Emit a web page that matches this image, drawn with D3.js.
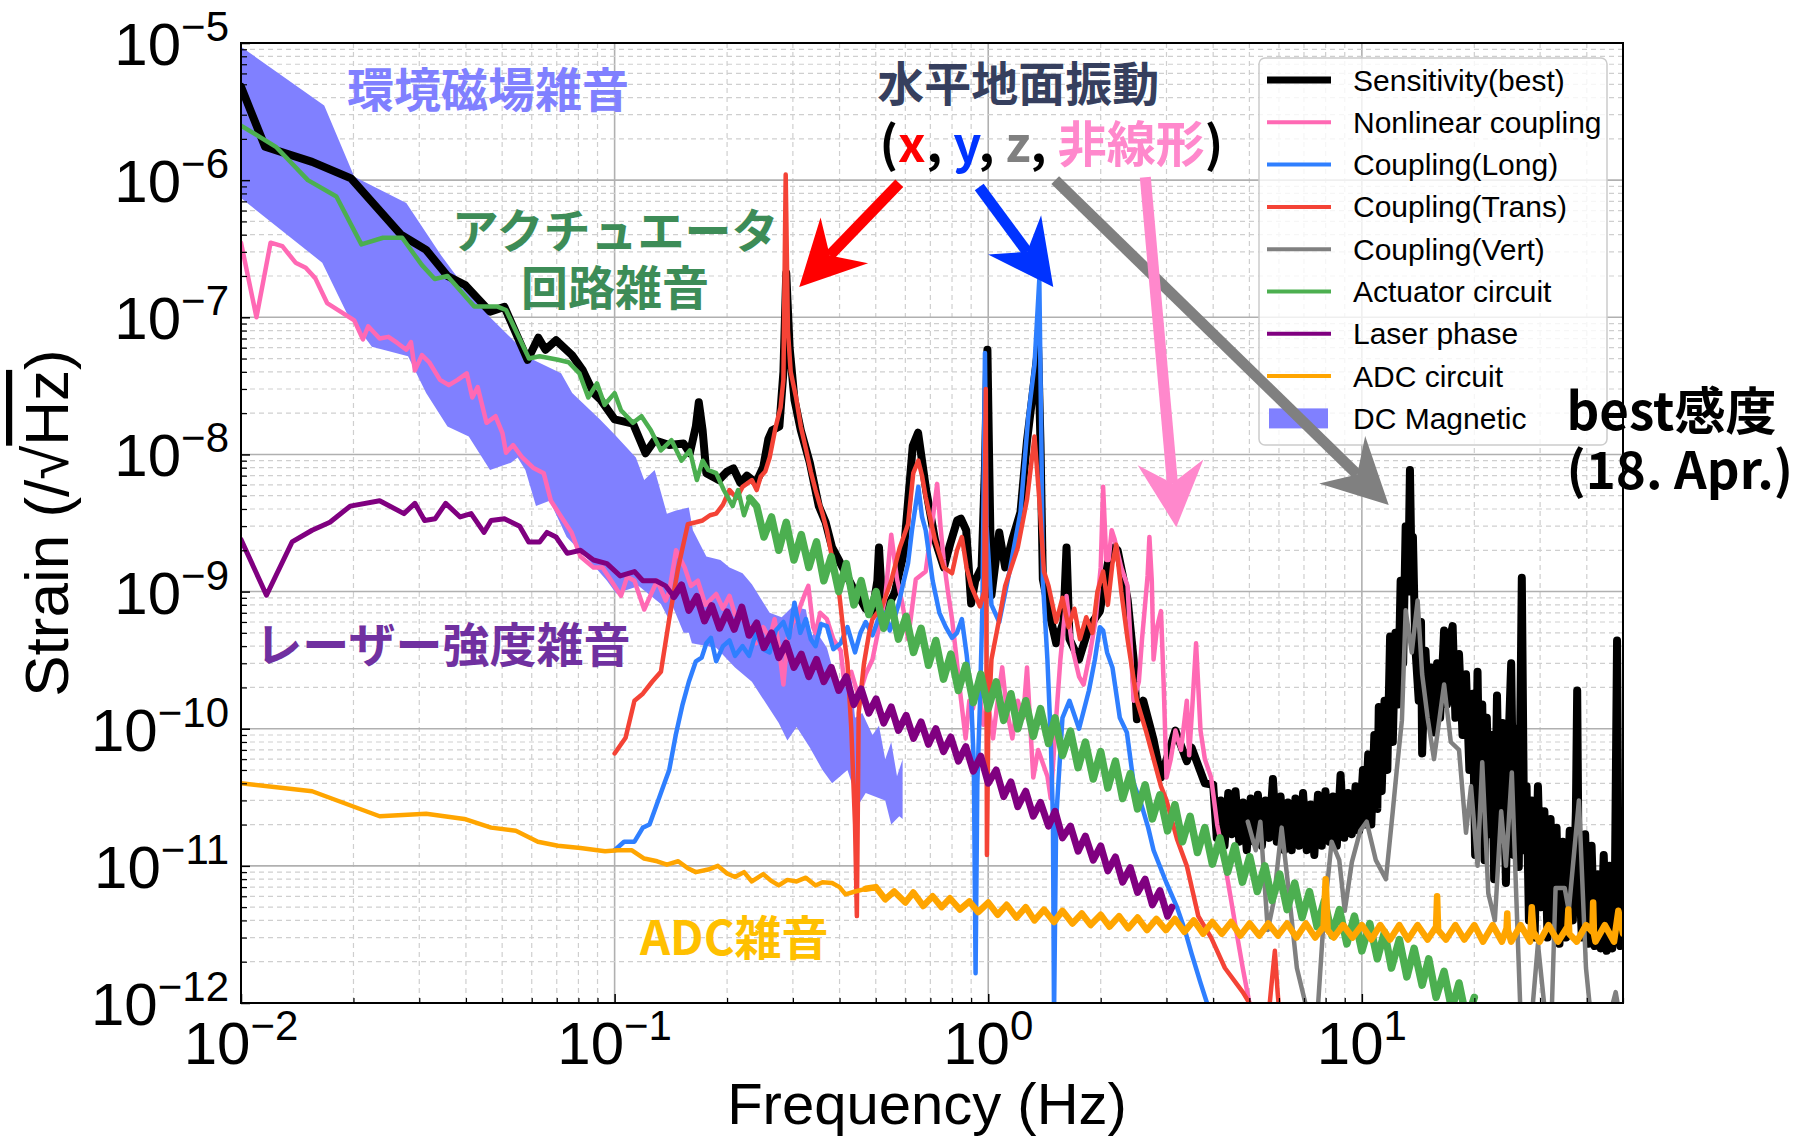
<!DOCTYPE html>
<html>
<head>
<meta charset="utf-8">
<title>Strain noise budget</title>
<script src="https://cdn.jsdelivr.net/npm/d3@7"></script>
<style>
  body { margin: 0; background: #fff; }
</style>
</head>
<body>
<svg id="chart" width="1814" height="1140"></svg>
<script>
'use strict';

// ---- data: [frequency (Hz), strain (/rtHz)] ----
var sensitivity = [
  [0.01,4.8e-6],[0.0116,1.75e-6],[0.0155,1.36e-6],[0.0197,1.03e-6],[0.0268,4.0e-7],[0.0313,3.1e-7],[0.0357,2.0e-7],[0.0398,1.72e-7],
  [0.0464,1.1e-7],[0.0507,1.19e-7],[0.0585,4.9e-8],[0.0625,7.1e-8],[0.0653,5.8e-8],[0.0697,6.8e-8],[0.0769,5.3e-8],[0.0822,4.1e-8],
  [0.0879,2.8e-8],[0.0918,2.5e-8],[0.1,1.8e-8],[0.112,1.68e-8],[0.121,1.02e-8],[0.128,1.27e-8],[0.14,1.17e-8],[0.153,1.2e-8],
  [0.159,1.02e-8],[0.165,1.6e-8],[0.168,2.4e-8],[0.172,1.5e-8],[0.176,7.3e-9],[0.19,6.5e-9],[0.2,7.5e-9],[0.208,7.9e-9],
  [0.217,6.2e-9],[0.226,7.0e-9],[0.239,6.2e-9],[0.25,8.1e-9],[0.258,1.3e-8],[0.264,1.5e-8],[0.276,1.6e-8],[0.283,4.0e-8],
  [0.288,2.1e-7],[0.294,6e-8],[0.303,2.5e-8],[0.315,1.5e-8],[0.333,8.7e-9],[0.352,4.2e-9],[0.367,3.2e-9],[0.382,2.1e-9],
  [0.398,1.7e-9],[0.415,1.36e-9],[0.432,1.1e-9],[0.451,9.2e-10],[0.47,7.5e-10],[0.489,6.9e-10],[0.505,1.2e-9],[0.51,2.1e-9],
  [0.518,1.0e-9],[0.532,7.3e-10],[0.562,9.8e-10],[0.594,1.9e-9],[0.61,4.5e-9],[0.628,1.15e-8],[0.649,1.44e-8],[0.665,9e-9],
  [0.682,5.5e-9],[0.72,2.4e-9],[0.761,1.5e-9],[0.79,2.2e-9],[0.826,3.3e-9],[0.845,3.4e-9],[0.873,2.8e-9],[0.9,8.2e-10],
  [0.923,1.2e-9],[0.96,1.5e-9],[0.98,8e-9],[0.995,5.8e-8],[1.005,1e-8],[1.02,9.4e-10],[1.07,2.7e-9],[1.11,1.5e-9],
  [1.16,2.4e-9],[1.22,3.8e-9],[1.27,1.26e-8],[1.32,3.0e-8],[1.36,6.0e-8],[1.38,1.2e-8],[1.4,1.23e-9],[1.47,6.3e-10],
  [1.52,4.2e-10],[1.59,6e-10],[1.62,2.1e-9],[1.65,4.5e-10],[1.75,3.2e-10],[1.86,5.5e-10],[1.99,7.2e-10],[2.1,1.73e-9],
  [2.18,2.1e-9],[2.22,2.0e-9],[2.36,8.8e-10],[2.45,3.2e-10],[2.5,1.17e-10],[2.6,1.6e-10],[2.77,8.3e-11],[2.9,4.4e-11],
  [3.17,9.7e-11],[3.4,5.8e-11],[3.5,7.3e-11],[3.8,4.0e-11],
  [4.0,3.9e-11],[4.09,1.6e-11],[4.19,3.0e-11],[4.29,1.4e-11],[4.39,3.4e-11],[4.49,1.7e-11],[4.59,3.5e-11],[4.70,1.5e-11],
  [4.81,2.9e-11],[4.92,1.3e-11],[5.04,3.1e-11],[5.15,1.5e-11],[5.27,3.3e-11],[5.40,1.4e-11],[5.52,3.0e-11],[5.65,1.6e-11],
  [5.78,4.3e-11],[5.92,1.5e-11],[6.06,3.2e-11],[6.20,1.3e-11],[6.34,2.9e-11],[6.49,1.3e-11],[6.64,3.1e-11],[6.80,1.4e-11],
  [6.96,3.4e-11],[7.12,1.3e-11],[7.29,2.8e-11],[7.46,1.2e-11],[7.63,3.3e-11],[7.81,1.4e-11],[7.99,3.5e-11],[8.18,1.5e-11],
  [8.37,3.2e-11],[8.57,1.4e-11],[8.77,4.6e-11],[8.97,1.6e-11],[9.18,3.4e-11],[9.40,1.7e-11],[9.62,3.8e-11],[9.84,1.8e-11],
  [10.07,5.0e-11],[10.2,2.0e-11],[10.4,6.5e-11],[10.6,2.0e-11],[10.8,9e-11],[11.0,2.6e-11],[11.1,1.44e-10],[11.3,3.5e-11],
  [11.5,1.6e-10],[11.7,5e-11],[11.9,4.7e-10],[12.1,8e-11],[12.3,5.0e-10],[12.5,1.5e-10],[12.7,1.2e-9],[12.9,3e-10],
  [13.1,3.0e-9],[13.3,1.0e-9],[13.45,7.7e-9],[13.6,1.14e-9],[13.7,2.5e-9],[13.9,4e-10],[14.2,1.6e-10],[14.4,6e-10],
  [14.5,6.6e-11],[14.8,3.7e-10],[15.1,1.2e-10],[15.3,2.8e-10],[15.6,9.4e-11],[15.9,3.0e-10],[16.2,1.2e-10],[16.6,5.2e-10],
  [16.9,1.5e-10],[17.2,4.5e-10],[17.5,5.6e-10],[17.8,1.2e-10],[18.2,3.5e-10],[18.6,9e-11],[19.0,2.5e-10],[19.4,5e-11],
  [19.8,1.8e-10],[20.1,1.2e-11],[20.4,2.6e-10],[20.7,2e-11],[21.0,1.5e-10],[21.3,1.1e-11],[21.6,1.2e-10],[22.0,1.7e-11],
  [22.3,9e-11],[22.6,8e-12],[23.0,1.75e-10],[23.4,1.5e-11],[23.8,1.1e-10],[24.3,7.5e-12],[24.7,8e-11],[25.1,3.0e-10],
  [25.5,1.2e-11],[25.9,1.0e-10],[26.3,9.8e-12],[26.8,1.26e-9],[27.2,1.3e-11],[27.6,3.8e-11],[28.0,4e-12],[28.5,3.0e-11],
  [29.0,3e-12],[29.6,3.8e-11],[30.2,5e-12],[30.8,2.5e-11],[31.4,3e-12],[32.0,2.2e-11],[32.6,4e-12],[33.2,1.9e-11],
  [33.8,2.7e-12],[34.5,1.5e-11],[35.2,3e-12],[36.0,1.8e-11],[36.7,4e-12],[37.4,2.5e-11],[37.7,1.9e-10],[38.0,1.2e-11],
  [38.8,3e-12],[39.6,1.7e-11],[40.4,2.7e-12],[41.2,1.4e-11],[42.0,2.6e-12],[42.8,8.7e-12],[43.6,2.5e-12],[44.4,1.2e-11],
  [45.2,2.4e-12],[46.0,1.0e-11],[46.8,2.5e-12],[47.6,9e-12],[48.2,4.4e-10],[48.6,8e-12],[49.2,2.6e-12],[50,1.5e-11]
];

var nonlinear = [
  [0.01,3.5e-7],[0.011,1.0e-7],[0.012,3.5e-7],[0.0129,3.3e-7],[0.014,2.5e-7],[0.0149,2.3e-7],[0.0158,1.93e-7],[0.017,1.27e-7],
  [0.0201,9.5e-8],[0.0212,6.9e-8],[0.0219,8.6e-8],[0.0235,7.0e-8],[0.0248,7.2e-8],[0.0262,6.5e-8],[0.0277,5.8e-8],[0.0285,6.6e-8],
  [0.0292,4.1e-8],[0.0305,5.3e-8],[0.0319,4.7e-8],[0.0341,3.5e-8],[0.036,3.2e-8],[0.038,3.5e-8],[0.0402,3.9e-8],[0.0416,2.6e-8],
  [0.043,3.1e-8],[0.0454,1.7e-8],[0.048,1.9e-8],[0.0501,1.43e-8],[0.0512,1.03e-8],[0.0535,1.17e-8],[0.0566,9.5e-9],[0.0605,8e-9],
  [0.0646,7.3e-9],[0.0675,4.6e-9],[0.072,3.5e-9],[0.0767,2.7e-9],[0.081,1.8e-9],[0.0878,1.5e-9],[0.0928,1.5e-9],[0.1,1.1e-9],
  [0.104,9.3e-10],[0.108,1.28e-9],[0.113,1.2e-9],[0.12,7.4e-10],[0.126,1.0e-9],[0.13,1.2e-9],[0.137,8.6e-10],[0.14,1.0e-9],
  [0.146,2.0e-9],[0.154,1.5e-9],[0.16,1.1e-9],[0.167,1.2e-9],[0.175,8e-10],[0.187,9.6e-10],[0.195,7.5e-10],[0.203,9.3e-10],
  [0.21,6.8e-10],[0.22,6.3e-10],[0.23,5.5e-10],[0.239,4.2e-10],[0.25,5.5e-10],[0.26,4.5e-10],[0.268,6.3e-10],[0.275,4e-10],
  [0.283,2.1e-10],[0.29,4.5e-10],[0.3,6.0e-10],[0.306,6.3e-10],[0.315,8e-10],[0.325,1.0e-9],[0.33,1.1e-9],[0.34,5.5e-10],
  [0.345,5e-10],[0.355,7e-10],[0.37,6.3e-10],[0.385,4.5e-10],[0.403,3.7e-10],[0.41,2.4e-10],[0.43,2.6e-10],[0.45,1.7e-10],
  [0.47,2.5e-10],[0.49,3.2e-10],[0.51,5.5e-10],[0.53,9e-10],[0.55,2.6e-9],[0.57,1.23e-9],[0.59,8e-10],[0.61,4.5e-10],
  [0.64,1.23e-9],[0.68,1.4e-9],[0.7,2.5e-9],[0.73,6.1e-9],[0.745,3e-9],[0.76,1.7e-9],[0.78,1.0e-9],[0.8,6.3e-10],
  [0.82,3.5e-10],[0.84,1.9e-10],[0.87,8.5e-11],[0.89,1.6e-10],[0.91,1.4e-10],[0.94,2.2e-10],[0.97,1.07e-10],[1.0,1.5e-10],
  [1.03,8.5e-11],[1.06,1.6e-10],[1.09,2.8e-10],[1.12,1.4e-10],[1.16,8.5e-11],[1.2,1.6e-10],[1.24,1.2e-10],[1.27,2.8e-10],
  [1.3,9e-11],[1.32,4.4e-11],[1.36,7e-11],[1.4,5.6e-11],[1.44,4.5e-11],[1.47,3.1e-11],[1.52,1.2e-10],[1.56,3.2e-10],
  [1.62,9.3e-10],[1.66,5e-10],[1.69,3.6e-10],[1.75,2.4e-10],[1.8,2.1e-10],[1.87,3.5e-10],[1.94,6.3e-10],[2.0,1.5e-9],
  [2.03,5.8e-9],[2.07,1.7e-9],[2.1,1.7e-9],[2.14,2.8e-9],[2.18,2.4e-9],[2.27,1.5e-9],[2.36,1.1e-9],[2.45,1.6e-10],
  [2.53,2.2e-10],[2.58,4.5e-10],[2.62,7.2e-10],[2.67,1.3e-9],[2.7,2.5e-9],[2.74,1.2e-9],[2.77,3.2e-10],[2.83,5.5e-10],
  [2.9,7.2e-10],[2.95,2e-10],[3.0,4.4e-11],[3.08,6e-11],[3.17,9.7e-11],[3.28,7e-11],[3.4,1.6e-10],[3.45,6.4e-11],
  [3.52,1.5e-10],[3.6,4.2e-10],[3.7,9.7e-11],[3.8,6e-11],[3.95,4.4e-11],[4.1,2e-11],[4.27,1.15e-11],[4.45,6e-12],
  [4.6,3.5e-12],[4.8,1.8e-12],[5.0,1.0e-12],[5.2,6e-13]
];

var couplingLong = [
  [0.1,1.3e-11],[0.106,1.5e-11],[0.113,1.5e-11],[0.119,1.9e-11],[0.124,2.0e-11],[0.129,2.7e-11],[0.135,3.8e-11],[0.14,5e-11],
  [0.146,9.2e-11],[0.152,1.5e-10],[0.158,2.2e-10],[0.165,3.1e-10],[0.171,3.3e-10],[0.176,4.2e-10],[0.181,4.6e-10],[0.187,3.1e-10],
  [0.195,4.0e-10],[0.203,4.4e-10],[0.21,3.4e-10],[0.22,4.0e-10],[0.229,3.4e-10],[0.239,5.0e-10],[0.25,3.8e-10],[0.26,3.6e-10],
  [0.27,5.2e-10],[0.283,6.0e-10],[0.293,4.6e-10],[0.303,8.3e-10],[0.314,5.0e-10],[0.325,6.3e-10],[0.335,4.5e-10],[0.345,4.0e-10],
  [0.357,5.8e-10],[0.37,5.6e-10],[0.385,3.8e-10],[0.403,4.2e-10],[0.42,5.5e-10],[0.44,3.6e-10],[0.455,5.0e-10],[0.47,6.0e-10],
  [0.49,4.8e-10],[0.51,6.5e-10],[0.53,7.0e-10],[0.545,5.2e-10],[0.56,6.3e-10],[0.575,8.0e-10],[0.59,1.1e-9],[0.61,1.6e-9],
  [0.625,2.8e-9],[0.65,5.8e-9],[0.665,3.5e-9],[0.68,2.8e-9],[0.71,1.2e-9],[0.74,7.0e-10],[0.77,5.5e-10],[0.8,4.6e-10],
  [0.825,5e-10],[0.85,6.3e-10],[0.875,3.5e-10],[0.9,1.7e-10],[0.915,5.6e-11],[0.925,1.65e-12],[0.935,4e-11],[0.95,1.5e-10],
  [0.965,8e-10],[0.98,5.5e-8],[0.99,3e-9],[1.02,8e-10],[1.07,6e-10],[1.14,1.4e-9],[1.22,3.8e-9],[1.28,1.9e-8],
  [1.33,4.5e-8],[1.37,1.9e-7],[1.39,8e-9],[1.4,1.2e-9],[1.44,3.2e-10],[1.47,8.5e-11],[1.49,2.2e-11],[1.5,8e-13],
  [1.52,2.2e-11],[1.58,1.2e-10],[1.65,1.6e-10],[1.75,1.0e-10],[1.86,1.9e-10],[1.93,3.2e-10],[1.99,5.5e-10],[2.03,5.2e-10],
  [2.08,3.6e-10],[2.15,2.8e-10],[2.25,1.2e-10],[2.35,9.4e-11],[2.45,4e-11],[2.55,3e-11],[2.68,1.9e-11],[2.77,1.3e-11],
  [3.0,7.5e-12],[3.2,5e-12],[3.36,3.4e-12],[3.5,2.3e-12],[3.7,1.4e-12],[3.85,1.0e-12],[4.0,7e-13]
];

var couplingTrans = [
  [0.1,6.6e-11],[0.107,8.6e-11],[0.113,1.6e-10],[0.119,1.8e-10],[0.126,2.2e-10],[0.133,2.6e-10],[0.14,6.3e-10],[0.148,1.5e-9],
  [0.157,3.1e-9],[0.165,3.2e-9],[0.172,3.3e-9],[0.18,3.6e-9],[0.187,3.7e-9],[0.195,4.3e-9],[0.203,5.5e-9],[0.212,4.8e-9],
  [0.22,5.8e-9],[0.233,6.5e-9],[0.24,5.5e-9],[0.246,6.9e-9],[0.253,7.5e-9],[0.26,9.5e-9],[0.27,1.6e-8],[0.278,2.2e-8],
  [0.283,3.5e-8],[0.287,1.1e-6],[0.291,8e-8],[0.296,4e-8],[0.306,2.6e-8],[0.315,1.6e-8],[0.325,1.1e-8],[0.335,7.5e-9],
  [0.345,5.5e-9],[0.36,3.7e-9],[0.37,2.8e-9],[0.38,1.9e-9],[0.39,1.4e-9],[0.4,9.2e-10],[0.41,5e-10],[0.42,3.0e-10],
  [0.43,1.0e-10],[0.44,2e-11],[0.445,4.3e-12],[0.45,1.3e-10],[0.465,3.0e-10],[0.48,5e-10],[0.49,6.3e-10],[0.52,7.8e-10],
  [0.55,1.2e-9],[0.58,2.1e-9],[0.61,3.1e-9],[0.63,7.3e-9],[0.65,9e-9],[0.665,7e-9],[0.68,4.9e-9],[0.72,2.4e-9],
  [0.76,1.5e-9],[0.8,1.36e-9],[0.825,2.0e-9],[0.85,2.5e-9],[0.875,1.5e-9],[0.9,1.1e-9],[0.95,7.8e-10],[0.975,1e-9],
  [0.985,3e-8],[0.992,1.2e-11],[1.0,1e-10],[1.02,3.2e-10],[1.07,6.3e-10],[1.11,1.1e-9],[1.2,2.1e-9],[1.27,4.7e-9],
  [1.33,1.35e-8],[1.37,4.7e-9],[1.41,1.4e-9],[1.45,1.1e-9],[1.52,6e-10],[1.58,9e-10],[1.64,5.5e-10],[1.7,7.5e-10],
  [1.76,4.5e-10],[1.83,6.5e-10],[1.9,5e-10],[1.96,1.0e-9],[2.03,1.4e-9],[2.09,8e-10],[2.15,1.6e-9],[2.2,2.2e-9],
  [2.27,1.0e-9],[2.36,4.5e-10],[2.5,1.6e-10],[2.65,9.4e-11],[2.9,3.8e-11],[3.0,3e-11],[3.2,1.57e-11],[3.4,1e-11],
  [3.65,4.3e-12],[3.95,3e-12],[4.3,1.8e-12],[4.8,1.2e-12],[5.0,1e-12],[5.1,7e-13],[5.6,7e-13],[5.75,1.5e-12],
  [5.85,2.4e-12],[5.95,1.2e-12],[6.05,7e-13]
];

var couplingVert = [
  [4.95,2.1e-11],[5.2,1.3e-11],[5.35,2.1e-11],[5.6,3.4e-12],[5.8,5.4e-12],[6.1,1.9e-11],[6.3,8.7e-12],[6.7,1.8e-12],
  [7.2,8e-13],[7.6,8e-13],[7.9,4e-12],[8.3,1.5e-11],[8.7,1.1e-11],[9.0,4.7e-12],[9.4,1.06e-11],[9.9,1.8e-11],
  [10.3,2.1e-11],[10.9,1.1e-11],[11.6,8e-12],[12.1,2.5e-11],[12.4,5e-11],[12.8,1.15e-10],[13.1,7.3e-10],[13.6,3.6e-10],
  [14.1,8.6e-10],[14.5,2.5e-10],[15.0,1.2e-10],[15.6,6e-11],[16.6,2.1e-10],[17.3,8e-11],[18.2,7e-11],[19.0,1.74e-11],
  [19.6,3.8e-11],[20.4,1e-11],[21.0,5.7e-11],[21.8,6.3e-12],[22.7,4e-12],[23.6,2.5e-11],[24.3,1e-11],[25.2,4.8e-11],
  [26.6,8e-13],[28.5,8e-13],[29.6,2.7e-12],[31.0,8e-13],[32.2,8e-13],[33.0,6.9e-12],[34.9,6.9e-12],[35.8,4.7e-12],
  [38.1,3e-11],[39.8,1.8e-12],[41.0,8e-13],[46.0,8e-13],[47.8,1.2e-12],[49,8e-13]
];

var actuator = [
  [0.01,2.5e-6],[0.0124,1.75e-6],[0.0151,1.0e-6],[0.018,7.6e-7],[0.021,3.4e-7],[0.024,3.8e-7],[0.027,3.8e-7],[0.0305,2.4e-7],
  [0.033,1.9e-7],[0.0357,2.0e-7],[0.0421,1.2e-7],[0.0484,1.2e-7],[0.0512,1.13e-7],[0.059,5.0e-8],[0.063,5.2e-8],[0.0705,4.9e-8],
  [0.0753,4.7e-8],[0.0805,3.9e-8],[0.085,2.6e-8],[0.0897,3.3e-8],[0.094,2.3e-8],[0.1,2.8e-8],[0.104,2.1e-8],[0.112,1.7e-8],
  [0.118,1.9e-8],[0.125,1.5e-8],[0.133,1.07e-8],[0.142,1.27e-8],[0.151,9.0e-9],[0.159,1.07e-8],[0.166,6.5e-9],[0.172,9e-9],
  [0.178,7.7e-9],[0.187,7.3e-9],[0.196,5.5e-9],[0.207,4.2e-9],[0.214,5.5e-9],[0.222,3.6e-9],[0.23,4.8e-9],
  [0.240,4.2e-9],[0.251,2.5e-9],[0.263,3.5e-9],[0.275,2.0e-9],[0.288,3.2e-9],[0.302,1.7e-9],[0.316,2.6e-9],[0.331,1.5e-9],
  [0.347,2.3e-9],[0.363,1.2e-9],[0.380,1.8e-9],[0.398,1.0e-9],[0.417,1.6e-9],[0.437,8.0e-10],[0.457,1.2e-9],[0.479,6.8e-10],
  [0.501,1.0e-9],[0.525,5.4e-10],[0.550,8.3e-10],[0.575,4.5e-10],[0.603,6.6e-10],[0.631,3.6e-10],[0.661,5.4e-10],[0.692,2.9e-10],
  [0.724,4.4e-10],[0.759,2.3e-10],[0.794,3.5e-10],[0.832,1.9e-10],[0.871,2.9e-10],[0.912,1.55e-10],[0.955,2.5e-10],[1.00,1.4e-10],
  [1.05,2.2e-10],[1.10,1.15e-10],[1.15,1.8e-10],[1.20,1.0e-10],[1.26,1.6e-10],[1.32,8.8e-11],[1.38,1.4e-10],[1.45,7.8e-11],
  [1.51,1.2e-10],[1.58,6.4e-11],[1.66,9.6e-11],[1.74,5.2e-11],[1.82,8.0e-11],[1.91,4.3e-11],[2.00,6.8e-11],[2.09,3.7e-11],
  [2.19,5.8e-11],[2.29,3.1e-11],[2.40,4.7e-11],[2.51,2.6e-11],[2.63,3.9e-11],[2.75,2.2e-11],[2.88,3.3e-11],[3.02,1.8e-11],
  [3.16,2.8e-11],[3.31,1.5e-11],[3.47,2.3e-11],[3.63,1.25e-11],[3.80,1.9e-11],[3.98,1.03e-11],[4.17,1.6e-11],[4.37,9.0e-12],
  [4.57,1.4e-11],[4.79,7.6e-12],[5.01,1.17e-11],[5.25,6.5e-12],[5.50,1.0e-11],[5.75,5.6e-12],[6.03,8.7e-12],[6.31,4.8e-12],
  [6.61,7.5e-12],[6.92,4.2e-12],[7.24,6.5e-12],[7.59,3.6e-12],[7.94,5.6e-12],[8.32,3.1e-12],[8.71,4.8e-12],[9.12,2.7e-12],
  [9.55,4.3e-12],[10.0,2.4e-12],[10.5,3.8e-12],[11.0,2.1e-12],[11.5,3.3e-12],[12.0,1.8e-12],[12.6,2.9e-12],[13.2,1.55e-12],
  [13.8,2.5e-12],[14.5,1.35e-12],[15.1,2.1e-12],[15.8,1.1e-12],[16.6,1.7e-12],[17.4,9.0e-13],[18.2,1.4e-12],[19.1,7.4e-13],
  [20.0,1.1e-12]
];

var laserPhase = [
  [0.01,2.4e-9],[0.0117,9.4e-10],[0.0137,2.3e-9],[0.0155,2.8e-9],[0.0173,3.2e-9],[0.0196,4.2e-9],[0.0235,4.6e-9],[0.0273,3.7e-9],
  [0.0292,4.4e-9],[0.031,3.3e-9],[0.0331,3.4e-9],[0.0353,4.4e-9],[0.0386,3.5e-9],[0.0413,3.7e-9],[0.0447,2.7e-9],[0.0467,3.3e-9],
  [0.0507,3.4e-9],[0.0557,3.0e-9],[0.0589,2.3e-9],[0.063,2.3e-9],[0.0659,2.7e-9],[0.0697,2.5e-9],[0.0747,1.9e-9],[0.081,2.0e-9],
  [0.0878,1.7e-9],[0.0954,1.6e-9],[0.1035,1.3e-9],[0.113,1.4e-9],[0.119,1.2e-9],[0.129,1.2e-9],[0.137,1.1e-9],[0.144,9.2e-10],
  [0.151,1.12e-9],[0.158,7.3e-10],[0.166,9.2e-10],[0.174,6.1e-10],[0.182,7.9e-10],[0.191,5.4e-10],[0.200,7.1e-10],[0.209,5.3e-10],
  [0.219,7.7e-10],[0.229,4.8e-10],[0.240,5.9e-10],[0.251,3.9e-10],[0.263,5.0e-10],[0.275,3.3e-10],[0.288,4.2e-10],[0.302,2.8e-10],
  [0.316,3.5e-10],[0.331,2.4e-10],[0.347,3.2e-10],[0.363,2.2e-10],[0.380,2.8e-10],[0.398,1.9e-10],[0.417,2.4e-10],[0.437,1.5e-10],
  [0.457,1.95e-10],[0.479,1.3e-10],[0.501,1.65e-10],[0.525,1.1e-10],[0.550,1.44e-10],[0.575,9.7e-11],[0.603,1.25e-10],[0.631,8.5e-11],
  [0.661,1.12e-10],[0.692,7.7e-11],[0.724,1.0e-10],[0.759,6.8e-11],[0.794,8.7e-11],[0.832,5.8e-11],[0.871,7.4e-11],[0.912,4.9e-11],
  [0.955,6.3e-11],[1.00,4.0e-11],[1.05,5.0e-11],[1.10,3.2e-11],[1.15,4.1e-11],[1.20,2.7e-11],[1.26,3.5e-11],[1.32,2.3e-11],
  [1.38,2.9e-11],[1.45,1.95e-11],[1.51,2.5e-11],[1.58,1.6e-11],[1.66,1.95e-11],[1.74,1.28e-11],[1.82,1.65e-11],[1.91,1.1e-11],
  [2.00,1.4e-11],[2.09,9.2e-12],[2.19,1.16e-11],[2.29,7.6e-12],[2.40,9.7e-12],[2.51,6.4e-12],[2.63,8.0e-12],[2.75,5.2e-12],
  [2.88,6.6e-12],[3.02,4.3e-12],[3.10,5.0e-12]
];

var adcCircuit = [
  [0.01,4.0e-11],[0.0155,3.5e-11],[0.0235,2.3e-11],[0.0313,2.4e-11],[0.0396,2.2e-11],[0.0467,1.9e-11],[0.0544,1.8e-11],[0.0623,1.5e-11],
  [0.0705,1.4e-11],[0.081,1.35e-11],[0.0943,1.28e-11],[0.102,1.3e-11],[0.111,1.3e-11],[0.12,1.13e-11],[0.13,1.08e-11],[0.138,1.02e-11],
  [0.148,1.08e-11],[0.157,9.6e-12],[0.165,9.0e-12],[0.178,9.4e-12],[0.189,1.0e-11],[0.2,8.8e-12],[0.21,8.3e-12],[0.222,9.0e-12],
  [0.233,7.7e-12],[0.25,8.7e-12],[0.262,7.8e-12],[0.275,7.2e-12],[0.29,7.9e-12],[0.307,7.7e-12],[0.325,8.2e-12],[0.345,7.2e-12],
  [0.36,7.6e-12],[0.382,7.5e-12],[0.4,7.0e-12],[0.415,6.2e-12],[0.44,6.5e-12],[0.47,6.8e-12],
  [0.50,7.0e-12],[0.53,5.7e-12],[0.56,6.5e-12],[0.60,5.4e-12],[0.63,6.4e-12],[0.67,5.1e-12],[0.71,6.0e-12],[0.75,5.0e-12],
  [0.79,5.8e-12],[0.84,4.8e-12],[0.89,5.5e-12],[0.94,4.6e-12],[1.0,5.4e-12],[1.06,4.4e-12],[1.12,5.2e-12],[1.19,4.2e-12],
  [1.26,5.0e-12],[1.33,4.0e-12],[1.41,4.8e-12],[1.5,3.9e-12],[1.58,4.7e-12],[1.68,3.8e-12],[1.78,4.5e-12],[1.88,3.7e-12],
  [2.0,4.4e-12],[2.11,3.6e-12],[2.24,4.3e-12],[2.37,3.5e-12],[2.51,4.2e-12],[2.66,3.4e-12],[2.82,4.1e-12],[2.99,3.4e-12],
  [3.16,4.1e-12],[3.35,3.3e-12],[3.55,4.0e-12],[3.76,3.2e-12],[3.98,3.9e-12],[4.22,3.2e-12],[4.47,3.9e-12],[4.73,3.1e-12],
  [5.01,3.8e-12],[5.31,3.1e-12],[5.62,3.8e-12],[5.96,3.1e-12],[6.31,3.8e-12],[6.68,3.0e-12],[7.08,3.8e-12],[7.5,3.0e-12],
  [7.9,3.6e-12],[8.0,8.0e-12],[8.1,3.4e-12],[8.41,3.0e-12],[8.91,3.7e-12],[9.44,3.0e-12],[10.0,3.7e-12],[10.6,2.9e-12],
  [11.2,3.7e-12],[11.9,2.9e-12],[12.6,3.7e-12],[13.3,2.9e-12],[14.1,3.7e-12],[15.0,2.9e-12],[15.8,3.6e-12],[15.9,6.0e-12],
  [16.0,3.4e-12],[16.8,2.9e-12],[17.8,3.7e-12],[18.8,2.9e-12],[20.0,3.7e-12],[21.1,2.8e-12],[22.4,3.7e-12],[23.7,2.8e-12],
  [24.4,3.5e-12],[24.5,4.5e-12],[24.6,3.4e-12],[25.1,2.8e-12],[26.6,3.7e-12],[28.2,2.8e-12],[28.5,5.0e-12],[28.8,3.3e-12],
  [29.9,2.8e-12],[31.6,3.7e-12],[33.5,2.8e-12],[35.5,3.6e-12],[35.7,4.8e-12],[35.9,3.2e-12],[37.6,2.8e-12],[39.8,3.7e-12],
  [41.4,3.3e-12],[41.6,5.4e-12],[41.8,3.2e-12],[42.2,2.8e-12],[44.7,3.7e-12],[47.3,2.8e-12],[48.6,4.7e-12],[50,3.2e-12]
];

// DC magnetic band: upper and lower edges
var magneticUpper = [
  [0.01,9.4e-6],[0.0167,3.5e-6],[0.0201,1.06e-6],[0.0277,6.8e-7],[0.0341,2.9e-7],[0.0372,2.1e-7],[0.0464,1.0e-7],[0.0605,4.9e-8],
  [0.0719,3.9e-8],[0.077,2.8e-8],[0.0914,1.8e-8],[0.1,1.4e-8],[0.114,9.5e-9],[0.12,6.5e-9],[0.128,7.7e-9],[0.138,3.7e-9],
  [0.146,3.9e-9],[0.158,4.1e-9],[0.162,2.8e-9],[0.176,1.8e-9],[0.192,1.7e-9],[0.203,1.5e-9],[0.22,1.36e-9],[0.233,1.13e-9],
  [0.26,7e-10],[0.28,6.5e-10],[0.3,7.8e-10],[0.325,7.4e-10],[0.335,4.6e-10],[0.345,5.2e-10],[0.37,3.9e-10],[0.39,2.3e-10],
  [0.415,2.0e-10],[0.43,2.4e-10],[0.44,1.2e-10],[0.46,1.3e-10],[0.49,9e-11],[0.51,1.05e-10],[0.53,6e-11],[0.55,8e-11],
  [0.57,4.5e-11],[0.59,6e-11]
];
var magneticLower = [
  [0.01,7.4e-7],[0.0165,2.5e-7],[0.0192,1.07e-7],[0.0224,6.1e-8],[0.028,5.2e-8],[0.0313,2.8e-8],[0.0357,1.6e-8],[0.0407,1.35e-8],
  [0.0464,7.7e-9],[0.0528,8.7e-9],[0.055,9.5e-9],[0.0577,7.7e-9],[0.0616,4.2e-9],[0.067,4.6e-9],[0.0744,2.5e-9],[0.0853,1.7e-9],
  [0.0954,1.2e-9],[0.101,9.7e-10],[0.116,1.1e-9],[0.133,8.1e-10],[0.14,6.2e-10],[0.143,7.8e-10],[0.153,5e-10],[0.158,5e-10],
  [0.161,4.2e-10],[0.187,3.9e-10],[0.21,2.8e-10],[0.233,2.2e-10],[0.275,1.1e-10],[0.29,8.2e-11],[0.307,1.03e-10],[0.333,7.3e-11],
  [0.36,5.0e-11],[0.382,4e-11],[0.42,5e-11],[0.45,2.8e-11],[0.47,3.4e-11],[0.53,3e-11],[0.55,2.0e-11],[0.578,2.3e-11],[0.59,2.2e-11]
];

var legendLabels = ['Sensitivity(best)', 'Nonlinear coupling', 'Coupling(Long)', 'Coupling(Trans)',
                    'Coupling(Vert)', 'Actuator circuit', 'Laser phase', 'ADC circuit', 'DC Magnetic'];
var xTickExps = [-2, -1, 0, 1];
var yTickExps = [-12, -11, -10, -9, -8, -7, -6, -5];

// annotation texts and their anchor points in data units
var noteLabels = ['環境磁場雑音', 'アクチュエータ', '回路雑音', '水平地面振動', 'レーザー強度雑音', 'ADC雑音'];
var noteAnchors = [[0.0458,4.85e-6],[0.1003,4.48e-7],[0.1003,1.72e-7],[1.203,5.37e-6],[0.0347,4.35e-10],[0.209,3.17e-12]];
var axisParts = ['(', 'x', ', ', 'y', ', ', 'z', ', ', '非線形', ')'];
var axisAnchor = [1.475, 1.96e-6];
var bestLabels = ['best感度', '(18. Apr.)'];
var bestAnchors = [[35.3,2.18e-8],[35.3,8.07e-9]];
var arrowTails = [[0.578,9.5e-7],[0.946,8.9e-7],[1.511,1.0e-6],[2.633,1.05e-6]];
var arrowTips  = [[0.312,1.66e-7],[1.493,1.66e-7],[11.8,4.27e-9],[3.187,2.95e-9]];

// ---- layout ----
var plot = {left: 241, right: 1623, top: 43, bottom: 1003};
var latin = "'Liberation Sans', Arial, Helvetica, sans-serif";
var cjk = "'Noto Sans CJK JP', 'Noto Sans', sans-serif";

var x = d3.scaleLog().domain([0.01, 50]).range([plot.left, plot.right]);
var y = d3.scaleLog().domain([1e-12, 1e-5]).range([plot.bottom, plot.top]);

var svg = d3.select('#chart');
svg.append('rect').attr('width', 1814).attr('height', 1140).attr('fill', '#fff');

svg.append('defs').append('clipPath').attr('id', 'plotclip')
  .append('rect')
  .attr('x', plot.left).attr('y', plot.top)
  .attr('width', plot.right - plot.left).attr('height', plot.bottom - plot.top);

function isDecade(v) {
  var l = Math.log10(v);
  return Math.abs(l - Math.round(l)) < 1e-6;
}

// grid
var grid = svg.append('g');
x.ticks().forEach(function(v) {
  var major = isDecade(v);
  grid.append('line')
    .attr('x1', x(v)).attr('x2', x(v)).attr('y1', plot.top).attr('y2', plot.bottom)
    .attr('stroke', major ? '#b0b0b0' : '#cfcfcf')
    .attr('stroke-width', major ? 1.6 : 1.2)
    .attr('stroke-dasharray', major ? null : '5,4');
});
y.ticks().forEach(function(v) {
  var major = isDecade(v);
  grid.append('line')
    .attr('y1', y(v)).attr('y2', y(v)).attr('x1', plot.left).attr('x2', plot.right)
    .attr('stroke', major ? '#b0b0b0' : '#cfcfcf')
    .attr('stroke-width', major ? 1.6 : 1.2)
    .attr('stroke-dasharray', major ? null : '5,4');
});

// data
var data_g = svg.append('g').attr('clip-path', 'url(#plotclip)');
var line = d3.line().x(function(d) { return x(d[0]); }).y(function(d) { return y(d[1]); });

data_g.append('path')
  .attr('d', line(magneticUpper.concat(magneticLower.slice().reverse())) + 'Z')
  .attr('fill', '#8080ff').attr('stroke', 'none');

// "band" = frequency above which the trace is a dense noise band, drawn heavier
var series = [
  {data: sensitivity, color: '#000000', width: 8},
  {data: nonlinear, color: '#ff69b4', width: 4.5},
  {data: couplingLong, color: '#2f7fff', width: 4.5},
  {data: couplingTrans, color: '#f44336', width: 4.5},
  {data: couplingVert, color: '#808080', width: 4.5},
  {data: actuator, color: '#4caf50', width: 4.5, band: 0.23, bandWidth: 7.5},
  {data: laserPhase, color: '#800080', width: 5, band: 0.144, bandWidth: 7},
  {data: adcCircuit, color: '#ffa500', width: 4.5, band: 0.47, bandWidth: 6.5}
];
series.forEach(function(s) {
  data_g.append('path')
    .attr('d', line(s.data))
    .attr('fill', 'none')
    .attr('stroke', s.color)
    .attr('stroke-width', s.width)
    .attr('stroke-linejoin', 'round')
    .attr('stroke-linecap', 'round');
  if (s.band) {
    data_g.append('path')
      .attr('d', line(s.data.filter(function(d) { return d[0] >= s.band; })))
      .attr('fill', 'none')
      .attr('stroke', s.color)
      .attr('stroke-width', s.bandWidth)
      .attr('stroke-linejoin', 'round')
      .attr('stroke-linecap', 'round');
  }
});

// axes frame and inward ticks
var minorX = x.ticks().filter(function(v) { return !isDecade(v); });
var minorY = y.ticks().filter(function(v) { return !isDecade(v); });
svg.append('g').attr('transform', 'translate(0,' + plot.bottom + ')')
  .call(d3.axisBottom(x).tickValues(minorX).tickSize(-5).tickFormat(''))
  .call(function(g) { g.select('.domain').remove(); g.selectAll('line').attr('stroke-width', 1.2); });
svg.append('g').attr('transform', 'translate(0,' + plot.bottom + ')')
  .call(d3.axisBottom(x).tickValues(xTickExps.map(function(e) { return Math.pow(10, e); })).tickSize(-9).tickFormat(''))
  .call(function(g) { g.select('.domain').remove(); g.selectAll('line').attr('stroke-width', 1.5); });
svg.append('g').attr('transform', 'translate(' + plot.left + ',0)')
  .call(d3.axisLeft(y).tickValues(minorY).tickSize(-6).tickFormat(''))
  .call(function(g) { g.select('.domain').remove(); g.selectAll('line').attr('stroke-width', 1.2); });
svg.append('g').attr('transform', 'translate(' + plot.left + ',0)')
  .call(d3.axisLeft(y).tickValues(yTickExps.map(function(e) { return Math.pow(10, e); })).tickSize(-9).tickFormat(''))
  .call(function(g) { g.select('.domain').remove(); g.selectAll('line').attr('stroke-width', 1.5); });

svg.append('rect')
  .attr('x', plot.left).attr('y', plot.top)
  .attr('width', plot.right - plot.left).attr('height', plot.bottom - plot.top)
  .attr('fill', 'none').attr('stroke', '#000').attr('stroke-width', 2);

// tick labels 10^n
function powLabel(px, py, anchor, e) {
  var t = svg.append('text')
    .attr('x', px).attr('y', py)
    .attr('text-anchor', anchor)
    .attr('font-family', latin)
    .attr('font-size', 60)
    .attr('fill', '#000');
  t.append('tspan').text('10');
  t.append('tspan').attr('dy', -24).attr('font-size', 42)
    .text(e < 0 ? '\u2212' + (-e) : String(e));
}
yTickExps.forEach(function(e) { powLabel(229, y(Math.pow(10, e)) + 22, 'end', e); });
xTickExps.forEach(function(e) { powLabel(x(Math.pow(10, e)), 1064, 'middle', e); });

// axis titles
svg.append('text')
  .attr('x', 927).attr('y', 1124)
  .attr('text-anchor', 'middle')
  .attr('font-family', latin).attr('font-size', 58)
  .text('Frequency (Hz)');

var yt = svg.append('text')
  .attr('transform', 'translate(68,523) rotate(-90)')
  .attr('text-anchor', 'middle')
  .attr('font-family', latin).attr('font-size', 62);
yt.append('tspan').text('Strain (/\u221A');
yt.append('tspan').attr('text-decoration', 'overline').text('Hz');
yt.append('tspan').text(')');

// legend
var lg = svg.append('g');
lg.append('rect')
  .attr('x', 1259).attr('y', 58).attr('width', 348).attr('height', 387).attr('rx', 6)
  .attr('fill', '#fff').attr('fill-opacity', 0.8)
  .attr('stroke', '#cccccc').attr('stroke-width', 1.5);
legendLabels.forEach(function(label, i) {
  var cy = 80 + i * 42.3;
  if (i < series.length) {
    lg.append('line')
      .attr('x1', 1267).attr('x2', 1331).attr('y1', cy).attr('y2', cy)
      .attr('stroke', series[i].color).attr('stroke-width', i === 0 ? 7 : 4);
  } else {
    lg.append('rect')
      .attr('x', 1269).attr('y', cy - 10).attr('width', 59).attr('height', 20)
      .attr('fill', '#8080ff');
  }
  lg.append('text')
    .attr('x', 1353).attr('y', cy + 10.5)
    .attr('font-family', latin).attr('font-size', 30)
    .text(label);
});

// annotations
var noteColors = ['#8080ff', '#3d8c57', '#3d8c57', '#363f5e', '#7030a0', '#ffc000'];
noteLabels.forEach(function(label, i) {
  svg.append('text')
    .attr('x', x(noteAnchors[i][0])).attr('y', y(noteAnchors[i][1]))
    .attr('text-anchor', 'middle').attr('dominant-baseline', 'central')
    .attr('font-family', cjk).attr('font-weight', 700).attr('font-size', 47)
    .attr('fill', noteColors[i])
    .text(label);
});

var partColors = ['#000', '#ff0000', '#000', '#0033ff', '#000', '#808080', '#000', '#ff88cc', '#000'];
var at = svg.append('text')
  .attr('x', x(axisAnchor[0])).attr('y', y(axisAnchor[1]))
  .attr('text-anchor', 'middle').attr('dominant-baseline', 'central')
  .attr('font-family', cjk).attr('font-weight', 700).attr('font-size', 49);
axisParts.forEach(function(p, i) {
  at.append('tspan').attr('fill', partColors[i]).text(p);
});

bestLabels.forEach(function(label, i) {
  svg.append('text')
    .attr('x', x(bestAnchors[i][0])).attr('y', y(bestAnchors[i][1]))
    .attr('text-anchor', 'start').attr('dominant-baseline', 'central')
    .attr('font-family', cjk).attr('font-weight', 700).attr('font-size', 51)
    .attr('fill', '#000')
    .text(label);
});

// arrows
var arrowColors = ['#ff0000', '#0033ff', '#808080', '#ff88cc'];
function drawArrow(tail, tip, color) {
  var x0 = x(tail[0]), y0 = y(tail[1]), x1 = x(tip[0]), y1 = y(tip[1]);
  var dx = x1 - x0, dy = y1 - y0, len = Math.sqrt(dx * dx + dy * dy);
  var ux = dx / len, uy = dy / len, nx = -uy, ny = ux;
  var headLen = 65, half = 33, notch = 44;
  var nxp = x1 - notch * ux, nyp = y1 - notch * uy;
  svg.append('line')
    .attr('x1', x0).attr('y1', y0).attr('x2', nxp).attr('y2', nyp)
    .attr('stroke', color).attr('stroke-width', 11);
  var pts = [
    [x1, y1],
    [x1 - headLen * ux + half * nx, y1 - headLen * uy + half * ny],
    [nxp, nyp],
    [x1 - headLen * ux - half * nx, y1 - headLen * uy - half * ny]
  ];
  svg.append('path')
    .attr('d', 'M' + pts.map(function(p) { return p[0] + ',' + p[1]; }).join('L') + 'Z')
    .attr('fill', color);
}
arrowTails.forEach(function(t, i) { drawArrow(t, arrowTips[i], arrowColors[i]); });
</script>
</body>
</html>
